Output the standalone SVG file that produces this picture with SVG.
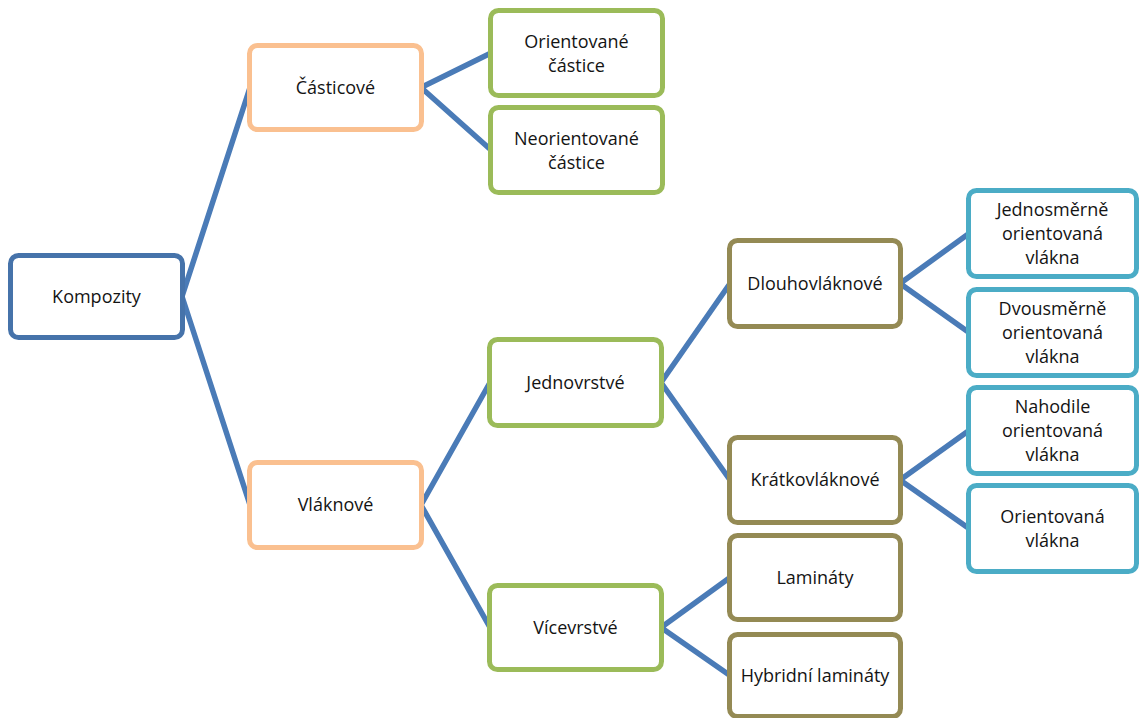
<svg xmlns="http://www.w3.org/2000/svg" width="1139" height="718" viewBox="0 0 1139 718">
<style>
.n rect{fill:#fff;stroke-width:5}
.root rect{stroke:#4673AA}
.l1 rect{stroke:#FAC090}
.l2 rect{stroke:#9BBB59}
.l3 rect{stroke:#948A54}
.l4 rect{stroke:#4BACC6}
.n text{font-family:"Open Sans","Liberation Sans",sans-serif;font-size:18px;fill:#141414;text-anchor:middle}
#connectors path{stroke:#4A7BB7;stroke-width:5.5;fill:none}
</style>
<rect width="1139" height="718" fill="#fff"/>
<g id="connectors">
<path d="M182,296.5 L250,87.5 M182,296.5 L250,505"/>
<path d="M421,87.5 L491,53 M421,87.5 L491,150"/>
<path d="M421,505 L490,382.5 M421,505 L490,627.5"/>
<path d="M661,382.5 L730,283.5 M661,382.5 L730,480"/>
<path d="M661,627.5 L730,577.5 M661,627.5 L730,675.5"/>
<path d="M900,283.5 L969,233.5 M900,283.5 L969,332.5"/>
<path d="M900,480 L969,430.5 M900,480 L969,528.5"/>
</g>
<g id="kompozity" class="n root"><rect x="10.5" y="255.5" width="172" height="82" rx="8"/><text x="96.5" y="303">Kompozity</text></g>
<g id="casticove" class="n l1"><rect x="249.5" y="45.5" width="172" height="84" rx="8"/><text x="335.5" y="94">Částicové</text></g>
<g id="vlaknove" class="n l1"><rect x="249.5" y="462.5" width="172" height="85" rx="8"/><text x="335.5" y="511">Vláknové</text></g>
<g id="orientovane-castice" class="n l2"><rect x="490.5" y="10.5" width="172" height="85" rx="8"/><text x="576.5" y="48">Orientované</text><text x="576.5" y="72">částice</text></g>
<g id="neorientovane-castice" class="n l2"><rect x="490.5" y="107.5" width="172" height="85" rx="8"/><text x="576.5" y="145">Neorientované</text><text x="576.5" y="169">částice</text></g>
<g id="jednovrstve" class="n l2"><rect x="489.5" y="339.5" width="172" height="86" rx="8"/><text x="575.5" y="389">Jednovrstvé</text></g>
<g id="vicevrstve" class="n l2"><rect x="489.5" y="585.5" width="172" height="84" rx="8"/><text x="575.5" y="634">Vícevrstvé</text></g>
<g id="dlouhovlaknove" class="n l3"><rect x="729.5" y="240.5" width="171" height="86" rx="8"/><text x="815" y="290">Dlouhovláknové</text></g>
<g id="kratkovlaknove" class="n l3"><rect x="729.5" y="437.5" width="171" height="85" rx="8"/><text x="815" y="486">Krátkovláknové</text></g>
<g id="laminaty" class="n l3"><rect x="729.5" y="535.5" width="171" height="84" rx="8"/><text x="815" y="584">Lamináty</text></g>
<g id="hybridni-laminaty" class="n l3"><rect x="729.5" y="634.5" width="171" height="82" rx="8"/><text x="815" y="682">Hybridní lamináty</text></g>
<g id="jednosmerne" class="n l4"><rect x="968.5" y="190.5" width="168" height="86" rx="8"/><text x="1052.5" y="216">Jednosměrně</text><text x="1052.5" y="240">orientovaná</text><text x="1052.5" y="264">vlákna</text></g>
<g id="dvousmerne" class="n l4"><rect x="968.5" y="289.5" width="168" height="86" rx="8"/><text x="1052.5" y="315">Dvousměrně</text><text x="1052.5" y="339">orientovaná</text><text x="1052.5" y="363">vlákna</text></g>
<g id="nahodile" class="n l4"><rect x="968.5" y="387.5" width="168" height="86" rx="8"/><text x="1052.5" y="413">Nahodile</text><text x="1052.5" y="437">orientovaná</text><text x="1052.5" y="461">vlákna</text></g>
<g id="orientovana-vlakna" class="n l4"><rect x="968.5" y="485.5" width="168" height="86" rx="8"/><text x="1052.5" y="523">Orientovaná</text><text x="1052.5" y="547">vlákna</text></g>
</svg>
